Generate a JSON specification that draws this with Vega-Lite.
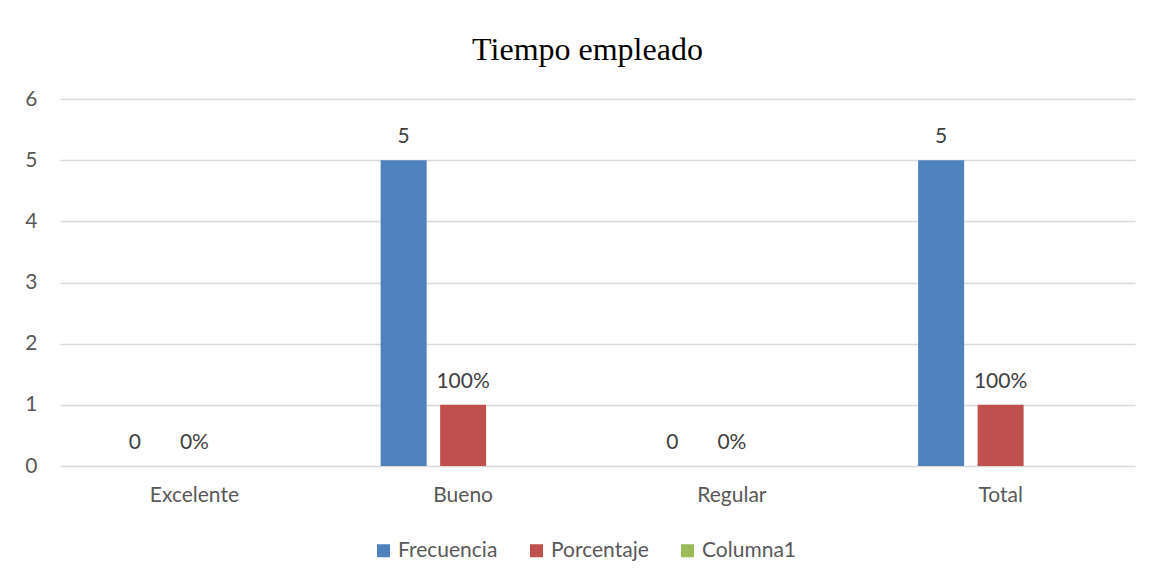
{
  "$schema": "https://vega.github.io/schema/vega-lite/v6.json",
  "width": 1075,
  "height": 367,
  "autosize": {"type": "none"},
  "padding": {"left": 60, "top": 99, "right": 22, "bottom": 116},
  "background": "white",
  "config": {"view": {"stroke": null}, "font": "Lato"},
  "title": {"text": "Tiempo empleado", "font": "Liberation Serif", "fontSize": 32, "fontWeight": "normal", "color": "#000000", "anchor": "middle", "offset": 40, "baseline": "alphabetic", "dx": -10, "dy": 44},
  "data": {"values": [
    {"categoria": "Excelente", "serie": "Frecuencia", "valor": 0, "label": "0"},
    {"categoria": "Excelente", "serie": "Porcentaje", "valor": 0, "label": "0%"},
    {"categoria": "Bueno", "serie": "Frecuencia", "valor": 5, "label": "5"},
    {"categoria": "Bueno", "serie": "Porcentaje", "valor": 1, "label": "100%"},
    {"categoria": "Regular", "serie": "Frecuencia", "valor": 0, "label": "0"},
    {"categoria": "Regular", "serie": "Porcentaje", "valor": 0, "label": "0%"},
    {"categoria": "Total", "serie": "Frecuencia", "valor": 5, "label": "5"},
    {"categoria": "Total", "serie": "Porcentaje", "valor": 1, "label": "100%"}
  ]},
  "encoding": {
    "x": {"field": "categoria", "type": "nominal", "sort": ["Excelente", "Bueno", "Regular", "Total"],
      "scale": {"paddingInner": 0.336, "paddingOuter": 0.168},
      "axis": {"title": null, "labelAngle": 0, "domain": false, "ticks": false, "labelPadding": 18, "labelFontSize": 21, "labelColor": "#595959", "labelFont": "Lato"}},
    "xOffset": {"field": "serie", "type": "nominal",
      "scale": {"domain": ["Frecuencia", "Porcentaje", "Columna1"], "paddingInner": 0.227, "paddingOuter": 0.1135}},
    "y": {"field": "valor", "type": "quantitative", "scale": {"domain": [0, 6]},
      "axis": {"title": null, "values": [0, 1, 2, 3, 4, 5, 6], "domain": false, "ticks": false, "labelPadding": 23, "labelFontSize": 21, "labelColor": "#595959", "labelFont": "Lato", "gridColor": "#D9D9D9", "gridWidth": 1.5}}
  },
  "layer": [
    {"mark": {"type": "bar"},
      "encoding": {"color": {"field": "serie", "type": "nominal",
        "scale": {"domain": ["Frecuencia", "Porcentaje", "Columna1"], "range": ["#4F81BD", "#C0504D", "#9BBB59"]},
        "legend": {"title": null, "orient": "none", "legendX": 313, "legendY": 441, "direction": "horizontal", "symbolType": "square", "symbolSize": 170, "symbolStrokeWidth": 0, "labelFontSize": 21, "labelColor": "#595959", "labelFont": "Lato", "columnPadding": 28, "labelOffset": 4}}}},
    {"mark": {"type": "text", "baseline": "alphabetic", "dy": -17, "fontSize": 21, "color": "#404040", "font": "Lato"},
      "encoding": {"text": {"field": "label"}}}
  ]
}
